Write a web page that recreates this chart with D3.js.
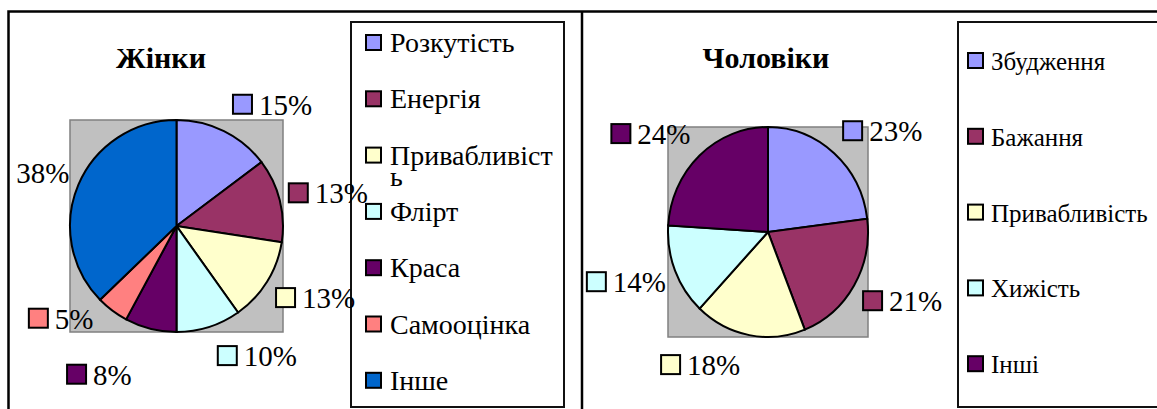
<!DOCTYPE html>
<html>
<head>
<meta charset="utf-8">
<script src="https://cdn.jsdelivr.net/npm/d3@7"></script>
<style>
  body { margin: 0; background: #fff; }
</style>
</head>
<body>
<script>
// Жінки
const womenTitle = "Жінки";
const womenCategories = ["Розкутість", "Енергія", "Привабливість", "Флірт", "Краса", "Самооцінка", "Інше"];
const womenValues = [15, 13, 13, 10, 8, 5, 38];
const womenColors = ["#9999ff", "#993366", "#ffffcc", "#ccffff", "#660066", "#ff8080", "#0066cc"];
const womenNoKey = ["Інше"];

// Чоловіки
const menTitle = "Чоловіки";
const menCategories = ["Збудження", "Бажання", "Привабливість", "Хижість", "Інші"];
const menValues = [23, 21, 18, 14, 24];
const menColors = ["#9999ff", "#993366", "#ffffcc", "#ccffff", "#660066"];
const menNoKey = [];

const w = 1157;
const h = 409;
const font = "Liberation Serif";

const svg = d3.select("body")
  .append("svg")
  .attr("width", w)
  .attr("height", h)
  .style("display", "block")
  .style("font-family", font);

const panels = [
  {
    title: womenTitle, categories: womenCategories, values: womenValues,
    colors: womenColors, noKey: womenNoKey,
    titleX: 161, plot: { x: 70, y: 120, w: 213, h: 212 },
    legend: { x: 351, y: 22, w: 213, h: 385, first: 52, step: 56.3, font: 28, keyX: 366, textX: 390 }
  },
  {
    title: menTitle, categories: menCategories, values: menValues,
    colors: menColors, noKey: menNoKey,
    titleX: 766, plot: { x: 668, y: 127, w: 200, h: 210 },
    legend: { x: 958, y: 22, w: 220, h: 385, first: 70, step: 75.8, font: 25, keyX: 968, textX: 991 }
  }
];

// frames of the two chart areas
svg.append("path")
  .attr("d", "M8.5,420 V11.5 H1160 M582,11.5 V420")
  .attr("fill", "none")
  .attr("stroke", "#000")
  .attr("stroke-width", 2.5);

panels.forEach(drawPanel);

function drawPanel(p) {
  const g = svg.append("g");
  const cx = p.plot.x + p.plot.w / 2;
  const cy = p.plot.y + p.plot.h / 2;
  const rx = p.plot.w / 2;
  const ry = p.plot.h / 2;

  g.append("text")
    .attr("x", p.titleX)
    .attr("y", 68)
    .attr("text-anchor", "middle")
    .style("font-family", font)
    .attr("font-size", "30px")
    .attr("font-weight", "bold")
    .text(p.title);

  g.append("rect")
    .attr("x", p.plot.x)
    .attr("y", p.plot.y)
    .attr("width", p.plot.w)
    .attr("height", p.plot.h)
    .attr("fill", "#c0c0c0")
    .attr("stroke", "#808080")
    .attr("stroke-width", 1.5);

  const pie = d3.pie().sort(null).value(d => d.value);
  const data = p.categories.map((c, i) => ({ name: c, value: p.values[i], color: p.colors[i] }));
  const arcs = pie(data);
  const arc = d3.arc().innerRadius(0).outerRadius(rx);

  g.append("g")
    .attr("transform", `translate(${cx},${cy}) scale(1,${ry / rx})`)
    .selectAll("path")
    .data(arcs)
    .enter()
    .append("path")
    .attr("d", arc)
    .attr("fill", d => d.data.color)
    .attr("stroke", "#000")
    .attr("stroke-width", 2)
    .attr("vector-effect", "non-scaling-stroke");

  // legend
  const L = p.legend;
  g.append("rect")
    .attr("x", L.x)
    .attr("y", L.y)
    .attr("width", L.w)
    .attr("height", L.h)
    .attr("fill", "#fff")
    .attr("stroke", "#111")
    .attr("stroke-width", 2);

  const item = g.selectAll(".legend-item")
    .data(data)
    .enter()
    .append("g")
    .attr("class", "legend-item")
    .attr("transform", (d, i) => `translate(0,${L.first + i * L.step})`);

  item.append("rect")
    .attr("x", L.keyX)
    .attr("y", -17)
    .attr("width", 15)
    .attr("height", 15)
    .attr("fill", d => d.color)
    .attr("stroke", "#000")
    .attr("stroke-width", 2);

  item.append("text")
    .attr("x", L.textX)
    .attr("y", 0)
    .style("font-family", font)
    .attr("font-size", L.font + "px")
    .each(function(d) {
      // wrap long names the way the original legend does
      const t = d3.select(this);
      const maxW = L.x + L.w - L.textX - 6;
      t.text(d.name);
      let first = d.name;
      let rest = "";
      while (this.getComputedTextLength() > maxW && first.length > 1) {
        rest = first.slice(-1) + rest;
        first = first.slice(0, -1);
        t.text(first);
      }
      if (rest) {
        t.text(null);
        t.append("tspan").attr("x", L.textX).text(first);
        t.append("tspan").attr("x", L.textX).attr("dy", 21).text(rest);
      }
    });

  // data labels
  const keySize = 19;
  const gap = 7;
  const labels = arcs.map(a => {
    const ang = (a.startAngle + a.endAngle) / 2;
    const s = Math.sin(ang);
    const c = Math.cos(ang);
    return {
      a: a,
      s: s,
      edge: cx + rx * s + (s >= 0 ? 9 : -9),
      cy: cy - (ry + 30) * c,
      key: p.noKey.indexOf(a.data.name) < 0,
      text: a.data.value + "%"
    };
  });

  const lab = g.selectAll(".label")
    .data(labels)
    .enter()
    .append("g")
    .attr("class", "label");

  lab.append("text")
    .style("font-family", font)
    .attr("font-size", "29px")
    .text(d => d.text)
    .each(function(d) {
      d.tw = this.getComputedTextLength();
      d.w = (d.key ? keySize + gap : 0) + d.tw;
      d.x0 = d.s >= 0 ? d.edge : d.edge - d.w;
    });

  // push apart labels that crowd each other
  const minDist = 56;
  for (let i = 0; i < labels.length; i++) {
    for (let j = i + 1; j < labels.length; j++) {
      const A = labels[i], B = labels[j];
      const overlapX = A.x0 < B.x0 + B.w && B.x0 < A.x0 + A.w;
      const dy = Math.abs(A.cy - B.cy);
      if (overlapX && dy < minDist) {
        const push = (minDist - dy) / 2;
        if (A.cy < B.cy) { A.cy -= push; B.cy += push; }
        else { A.cy += push; B.cy -= push; }
        A.x0 += Math.sign(A.s) * push * 0.6;
        B.x0 += Math.sign(B.s) * push * 0.6;
      }
    }
  }

  lab.filter(d => d.key)
    .append("rect")
    .attr("x", d => d.x0)
    .attr("y", d => d.cy - keySize / 2)
    .attr("width", keySize)
    .attr("height", keySize)
    .attr("fill", d => d.a.data.color)
    .attr("stroke", "#000")
    .attr("stroke-width", 2);

  lab.select("text")
    .attr("x", d => d.x0 + (d.key ? keySize + gap : 0))
    .attr("y", d => d.cy + keySize / 2 + 1);
}
</script>
</body>
</html>
